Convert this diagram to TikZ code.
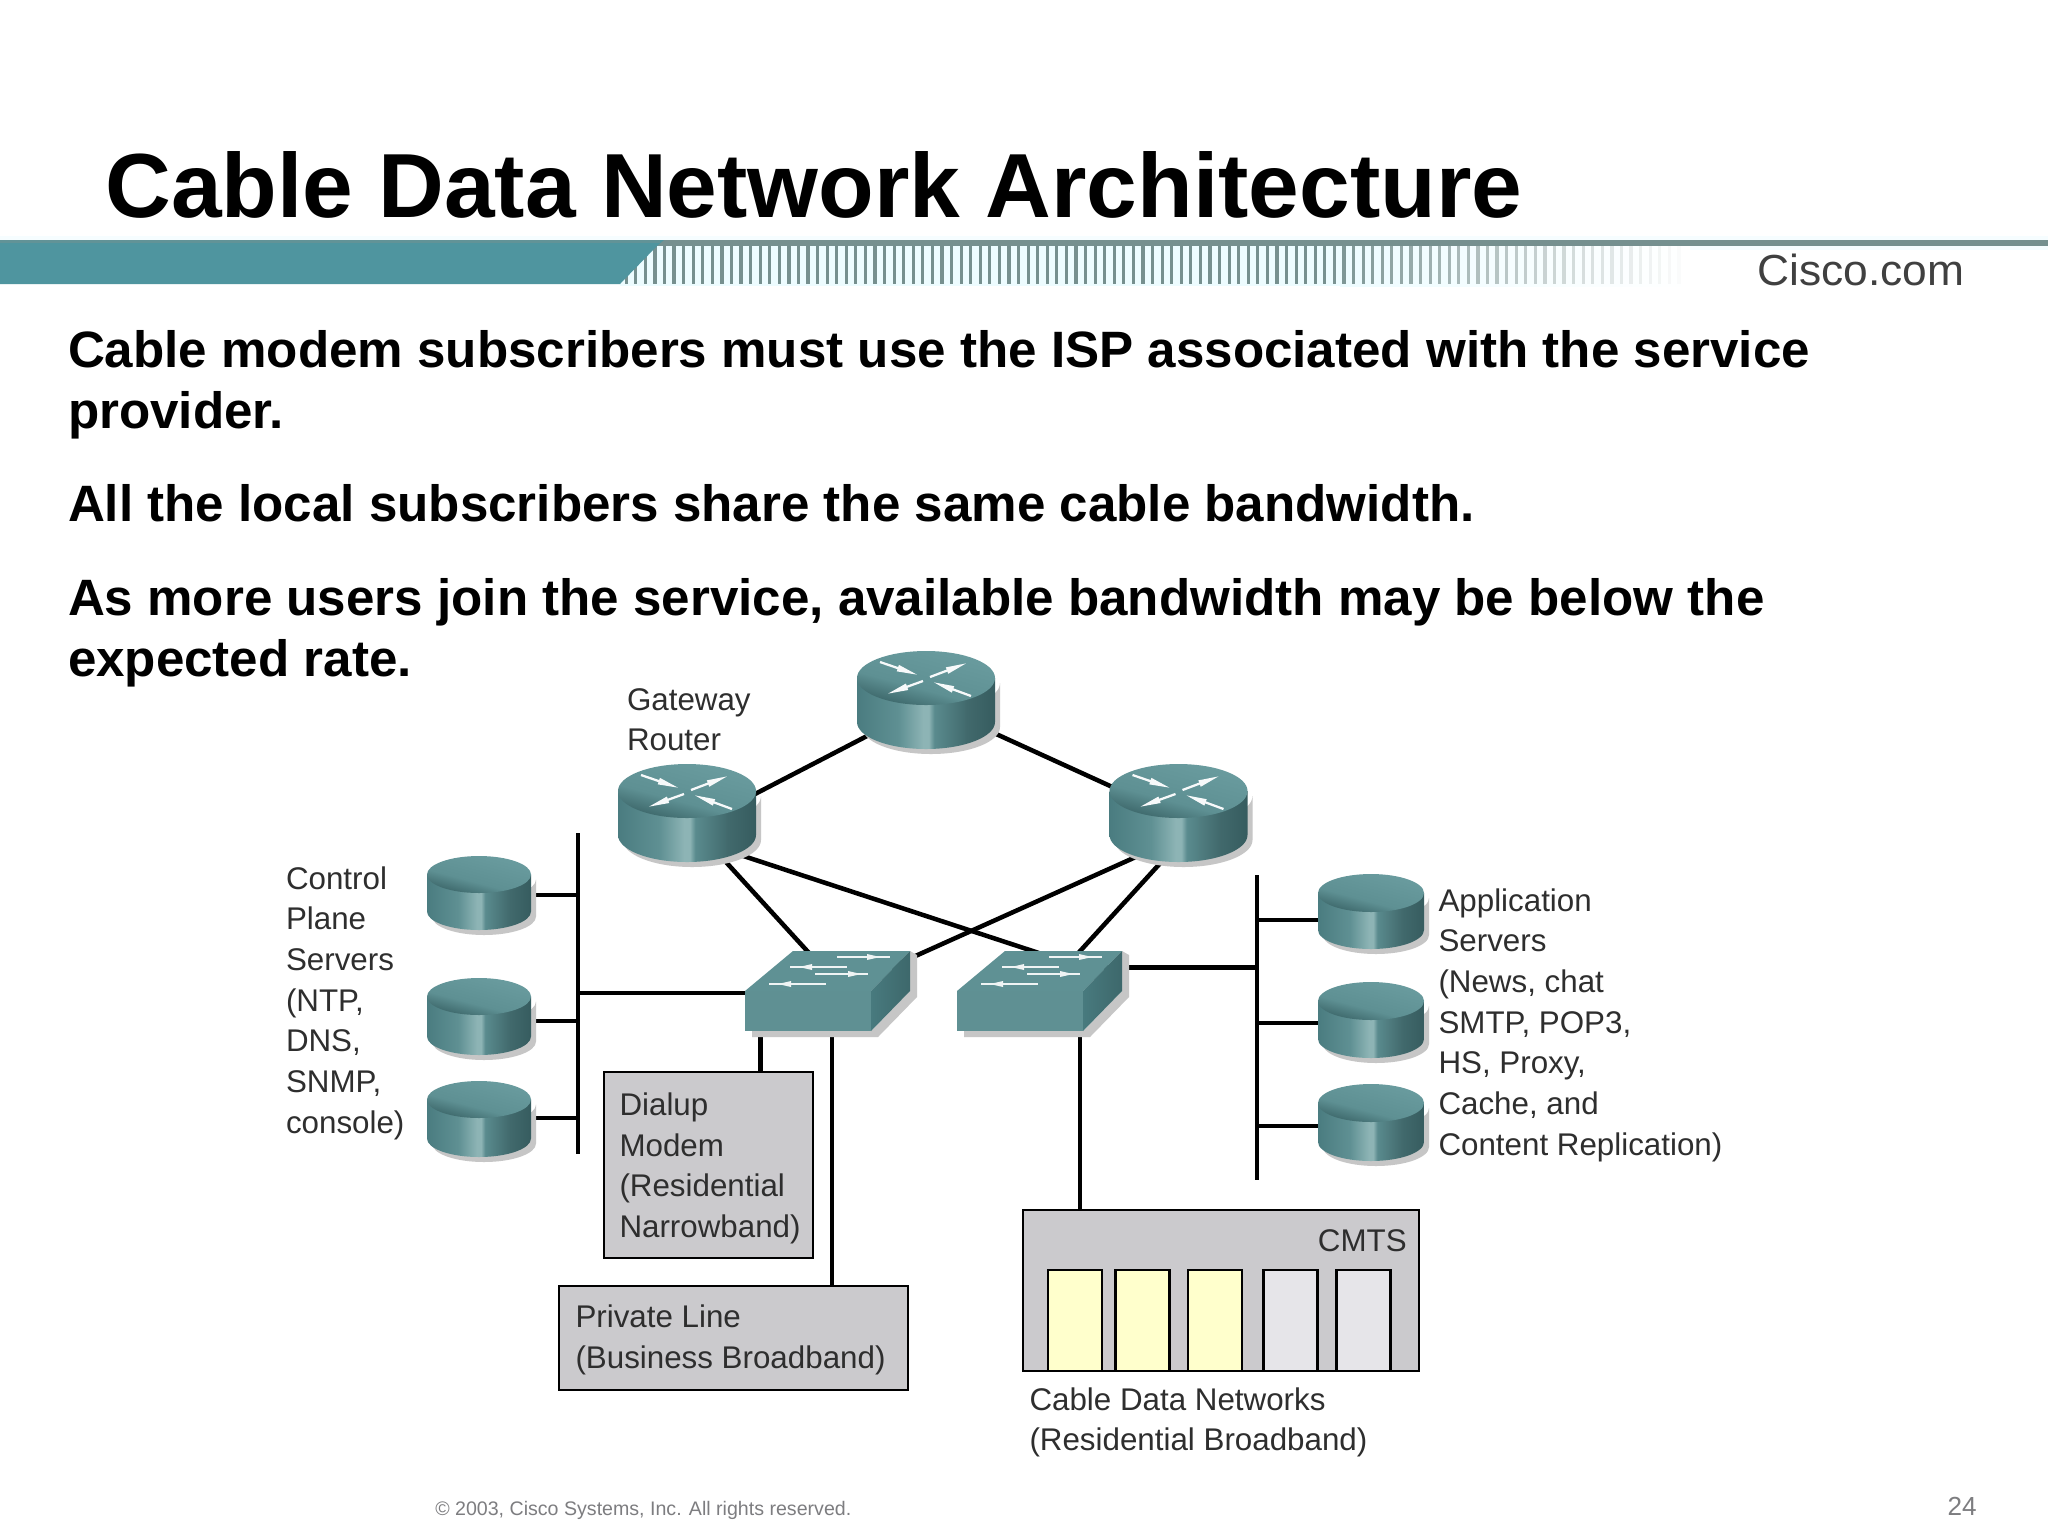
\documentclass[tikz,border=0pt]{standalone}
\usepackage{fontspec}
\setmainfont{Liberation Sans}
\usetikzlibrary{arrows.meta,calc}
\definecolor{tealsolid}{HTML}{4F959F}
\definecolor{stripc}{HTML}{76908F}
\definecolor{halo}{HTML}{EDFCFF}
\definecolor{labelc}{HTML}{2E2E2E}
\definecolor{boxgray}{HTML}{CBCACD}
\definecolor{slotyellow}{HTML}{FFFFCC}
\definecolor{slotgray}{HTML}{E6E5E9}
\definecolor{footc}{HTML}{7D7D80}
\definecolor{shadowc}{HTML}{C6C6C6}
\definecolor{swtop}{HTML}{5F9194}
\definecolor{swfront}{HTML}{5F9093}
\definecolor{swside}{HTML}{487A7E}
\definecolor{ba}{HTML}{4A7C80}
\definecolor{bb}{HTML}{5F9093}
\definecolor{bc}{HTML}{8DB4B5}
\definecolor{bd}{HTML}{5A8B8E}
\definecolor{be}{HTML}{41696C}
\definecolor{bf}{HTML}{365C5F}
\definecolor{ta}{HTML}{6A9C9F}
\definecolor{tb}{HTML}{5E9093}
\definecolor{tc}{HTML}{3A6467}
\pgfdeclarehorizontalshading{devbody}{100bp}{color(0bp)=(ba); color(25bp)=(ba); color(40bp)=(bb); color(49bp)=(bc); color(51bp)=(bc); color(53bp)=(bd); color(65bp)=(be); color(75bp)=(bf); color(100bp)=(bf)}
\pgfdeclareverticalshading{devtop}{100bp}{color(0bp)=(tc); color(25bp)=(tc); color(42bp)=(tb); color(75bp)=(ta); color(100bp)=(ta)}
% cylinder: #1 cx, #2 rx, #3 ry, #4 top y, #5 bottom y
\newcommand\mkdrum[5]{%
  \fill[shadowc] ({#1-#2+5},{#4+#3+5}) -- ({#1-#2+5},{#5-#3+5}) arc[start angle=180,end angle=0,x radius=#2,y radius=#3] -- ({#1+#2+5},{#4+#3+5}) arc[start angle=0,end angle=180,x radius=#2,y radius=#3] -- cycle;
  \shade[shading=devbody] ({#1-#2},{#4+#3}) -- ({#1-#2},{#5-#3}) arc[start angle=180,end angle=0,x radius=#2,y radius=#3] -- ({#1+#2},{#4+#3}) -- cycle;
  \shade[shading=devtop,shading angle=-15] ({#1},{#4+#3}) ellipse[x radius=#2,y radius=#3];
}
% router picture: #1 cx, #2 top y
\newcommand\mkrouter[2]{%
  \mkdrum{#1}{69}{27}{#2}{#2+98}
  \begin{scope}[shift={(#1,#2+27)}]
    \draw[arw] (-46,-16) -- (-8,-3);
    \draw[arw] (4,-1) -- (41,-15);
    \draw[arw] (-3,3) -- (-39,16);
    \draw[arw] (45,18) -- (7,4);
  \end{scope}
}
% switch tick: #1 y, #2 x1, #3 x2, #4 tip x, #5 direction
\newcommand\swtick[5]{%
  \draw[white!90!swtop,line width=1.4pt] (#2,#1) -- (#3,#1);
  \fill[white!90!swtop] ({#4+#5*7},#1) -- ({#4-#5*6},{#1-3}) -- ({#4-#5*6},{#1+3}) -- cycle;
}
% switch picture: #1 left x of the front face
\newcommand\mkswitch[1]{%
  \begin{scope}[shift={(#1,991)}]
    \fill[shadowc] (7,40) -- (7,46) -- (133,46) -- (172,6) -- (172,-36) -- (165,-40) -- (165,0) -- (126,40) -- cycle;
    \fill[swtop] (0,0) -- (48,-40) -- (165,-40) -- (126,0) -- cycle;
    \fill[swfront] (0,0) rectangle (126,40);
    \shade[left color=swside,right color=swside!85!black] (126,0) -- (165,-40) -- (165,0) -- (126,40) -- cycle;
    \swtick{-34}{92}{145}{128}{1}
    \swtick{-24}{45}{102}{61}{-1}
    \swtick{-17}{70}{123}{109}{1}
    \swtick{-7}{24}{81}{40}{-1}
  \end{scope}
}
\tikzset{
  arw/.style={white!95!swtop,line width=1.7pt,line cap=butt,-{Triangle[length=16pt,width=4.6pt]}},
  link/.style={black,line width=3.4pt},
  routerhub/.style={circle,inner sep=0pt,outer sep=0pt,minimum size=63pt},
  switchhub/.style={circle,inner sep=0pt,outer sep=0pt,minimum size=57pt},
  diskhub/.style={circle,inner sep=0pt,outer sep=0pt,minimum size=40pt},
  busbar/.style={fill=black,inner sep=0pt,outer sep=0pt,minimum width=3.6pt},
  graybox/.style={draw=black,line width=2pt,fill=boxgray,inner sep=0pt,outer sep=0pt},
  slotbox/.style={draw=black,line width=1.6pt,inner sep=0pt,outer sep=0pt,minimum width=40.5pt,minimum height=75.75pt},
  lbl/.style={anchor=north west,inner sep=0pt,outer sep=0pt,align=left,text=labelc,font=\fontsize{23.5}{30.5}\selectfont},
  bodytext/.style={anchor=north west,inner sep=0pt,outer sep=0pt,align=left,text=black,font=\fontsize{38.35}{45.75}\selectfont\bfseries},
}
\newcommand\fr{\rule{0pt}{1em}}
\begin{document}
\begin{tikzpicture}[x=0.75pt,y=-0.75pt]
\useasboundingbox (0,0) rectangle (2048,1536);
\fill[white] (0,0) rectangle (2048,1536);
% banner
\fill[halo!50!white] (0,236) rectangle (2048,250);
\shade[left color=halo,right color=white] (1340,246) rectangle (1690,286);
\fill[halo] (620,246) rectangle (1340,286);
\foreach \i in {0,...,110}{
  \pgfmathsetmacro\xs{624.6+9.57*\i}
  \pgfmathsetmacro\pc{\xs<1320 ? 100 : max(0,100*(1-(\xs-1320)/370))}
  \fill[stripc!\pc!white] (\xs,246) rectangle ({\xs+3.2},284);
}
\fill[stripc] (640,240) rectangle (2048,246);
\fill[tealsolid] (0,240) -- (664,240) -- (657,246) -- (620,284) -- (0,284) -- cycle;
\fill[stripc!50!tealsolid] (0,240) rectangle (660,243);
\node[anchor=base west,inner sep=0pt,text=black!75,font=\fontsize{32.6}{36}\selectfont,xscale=1.02] (logo) at (1757,285) {Cisco.com};
% title and text
\node[anchor=base west,inner sep=0pt,font=\fontsize{68.3}{72}\selectfont\bfseries] (title) at (105,217) {Cable Data Network Architecture};
\node[bodytext] (t1) at (68,316) {\fr Cable modem subscribers must use the ISP associated with the service\\provider.};
\node[bodytext] (t2) at (68,470) {\fr All the local subscribers share the same cable bandwidth.};
\node[bodytext] (t3) at (68,564) {\fr As more users join the service, available bandwidth may be below the\\expected rate.};
% invisible hubs
\node[routerhub] (rtop) at (926,700) {};
\node[routerhub] (rleft) at (687,813.5) {};
\node[routerhub] (rright) at (1178.5,813.5) {};
\node[switchhub] (swL) at (827.5,991) {};
\node[switchhub] (swR) at (1039.5,991) {};
\node[diskhub] (sc1) at (479,895) {};
\node[diskhub] (sc2) at (479,1021) {};
\node[diskhub] (sc3) at (479,1118) {};
\node[diskhub] (sa1) at (1371,920) {};
\node[diskhub] (sa2) at (1371,1023) {};
\node[diskhub] (sa3) at (1371,1126) {};
\node[busbar,minimum height=240.75pt] (lbus) at (578,993.5) {};
\node[busbar,minimum height=228.75pt] (rbus) at (1257,1027.5) {};
% boxes
\node[graybox,minimum width=156.75pt,minimum height=139.5pt] (dial) at (708.5,1165) {};
\node[graybox,minimum width=261.75pt,minimum height=78pt] (priv) at (733.5,1338) {};
\node[graybox,minimum width=297pt,minimum height=120.75pt] (cmts) at (1221,1290.5) {};
\node[slotbox,fill=slotyellow] (c1) at (1075,1320.5) {};
\node[slotbox,fill=slotyellow] (c2) at (1142.5,1320.5) {};
\node[slotbox,fill=slotyellow] (c3) at (1215,1320.5) {};
\node[slotbox,fill=slotgray] (c4) at (1290.5,1320.5) {};
\node[slotbox,fill=slotgray] (c5) at (1363.5,1320.5) {};
% connectors
\draw[link] (rtop.214) -- (rleft.8);
\draw[link] (rtop.333) -- (rright.160);
\draw[link] (rleft.307) -- (swL.114);
\draw[link] (rleft.309) -- (swR.91);
\draw[link] (rright.236) -- (swL.18);
\draw[link] (rright.256) -- (swR.43);
\draw[link] (swL.183) -- (swL.183 -| lbus);
\draw[link] (swR.38) -- (swR.38 -| rbus);
\foreach \d in {sc1,sc2,sc3}{\draw[link] (\d.center) -- (\d.center -| lbus);}
\foreach \d in {sa1,sa2,sa3}{\draw[link] (\d.center) -- (\d.center -| rbus);}
\coordinate (dp) at ([xshift=39pt]dial.north);
\coordinate (pp) at ([xshift=73.9pt]priv.north);
\coordinate (cp) at ([xshift=-105.75pt]cmts.north);
\draw[link] (dp) -- (dp |- swL.center);
\draw[link] (pp) -- (pp |- swL.center);
\draw[link] (cp) -- (cp |- swR.center);
% device pictures
\mkrouter{926}{651}
\mkrouter{687}{764}
\mkrouter{1178.5}{764}
\mkswitch{745}
\mkswitch{957}
\mkdrum{479}{52}{18.5}{856}{930}
\mkdrum{479}{52}{18.5}{978}{1055}
\mkdrum{479}{52}{18.5}{1081}{1157}
\mkdrum{1371}{53}{19}{874}{949}
\mkdrum{1371}{53}{19}{982}{1058}
\mkdrum{1371}{53}{19}{1084}{1161}
% labels
\node[lbl] (lgw) at (627,{710-31.3}) {\fr Gateway\\Router};
\node[lbl] (lctl) at (286,{889-31.3}) {\fr Control\\Plane\\Servers\\(NTP,\\DNS,\\SNMP,\\console)};
\node[lbl] (lapp) at (1438.5,{911-31.3}) {\fr Application\\Servers\\(News, chat\\SMTP, POP3,\\HS, Proxy,\\Cache, and\\Content Replication)};
\node[lbl] (ldial) at (619.5,{1115.5-31.3}) {\fr Dialup\\Modem\\(Residential\\Narrowband)};
\node[lbl] (lpriv) at (575.5,{1327.3-31.3}) {\fr Private Line\\(Business Broadband)};
\node[lbl] (lcab) at (1029.5,{1410-31.3}) {\fr Cable Data Networks\\(Residential Broadband)};
\node[anchor=base east,inner sep=0pt,text=labelc,font=\fontsize{23.5}{30.5}\selectfont] (lcmts) at (1407,1251) {CMTS};
% footer
\node[anchor=base west,inner sep=0pt,text=footc,font=\fontsize{14.7}{18}\selectfont] (copy) at (435,1515) {© 2003, Cisco Systems, Inc. All rights reserved.};
\node[anchor=base east,inner sep=0pt,text=footc,font=\fontsize{19.6}{22}\selectfont] (page) at (1977,1515) {24};
\end{tikzpicture}
\end{document}
